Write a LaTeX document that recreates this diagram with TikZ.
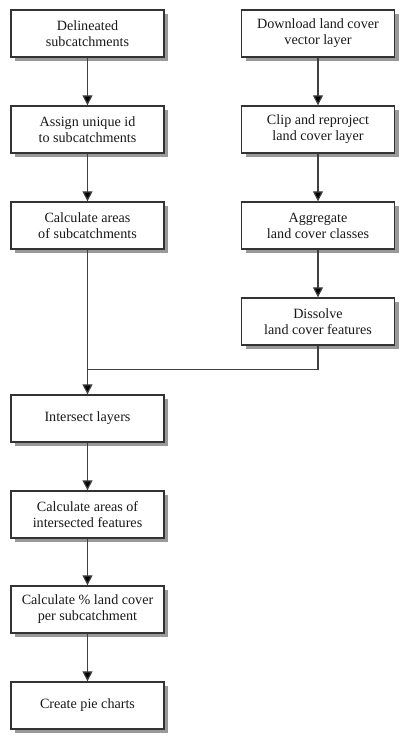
\documentclass[tikz,border=0pt]{standalone}
\usepackage{fontspec}
\setmainfont{Liberation Serif}
\usetikzlibrary{shadows,arrows.meta}
\begin{document}
\begin{tikzpicture}[x=0.75pt,y=-0.75pt,
  box/.style={draw=black!80, line width=1pt, fill=white, minimum width=114.75pt, minimum height=35.25pt,
    inner sep=0pt, align=center, font=\fontsize{10.6}{12}\selectfont, text=black!90,
    drop shadow={shadow xshift=3pt, shadow yshift=-3pt, fill=black!40, opacity=1}},
  conn/.style={draw=black!75, line width=0.9pt},
  arr/.style={conn, -{Triangle[length=7.5pt,width=7.5pt,fill=black]}}]
\useasboundingbox (0,0) rectangle (412,749);
\node[box] (a1) at (87.5,33.5) {Delineated\\subcatchments};
\node[box] (a2) at (87.5,129.5) {Assign unique id\\to subcatchments};
\node[box] (a3) at (87.5,225.5) {Calculate areas\\of subcatchments};
\node[box] (b1) at (318,33.5) {Download land cover\\vector layer};
\node[box] (b2) at (318,129.5) {Clip and reproject\\land cover layer};
\node[box] (b3) at (318,225.5) {Aggregate\\land cover classes};
\node[box] (b4) at (318,321.5) {Dissolve\\land cover features};
\node[box] (c1) at (87.5,418.5) {Intersect layers};
\node[box] (c2) at (87.5,514.5) {Calculate areas of\\intersected features};
\node[box] (c3) at (87.5,609.5) {Calculate \% land cover\\per subcatchment};
\node[box] (c4) at (87.5,705.5) {Create pie charts};
\coordinate (j) at (87.5,369.5);
\draw[arr] (a1) -- (a2);
\draw[arr] (a2) -- (a3);
\draw[arr] (b1) -- (b2);
\draw[arr] (b2) -- (b3);
\draw[arr] (b3) -- (b4);
\draw[conn] (a3) -- (j);
\draw[conn] (b4.south) |- (j);
\draw[arr] (j) -- (c1);
\draw[arr] (c1) -- (c2);
\draw[arr] (c2) -- (c3);
\draw[arr] (c3) -- (c4);
\end{tikzpicture}
\end{document}
